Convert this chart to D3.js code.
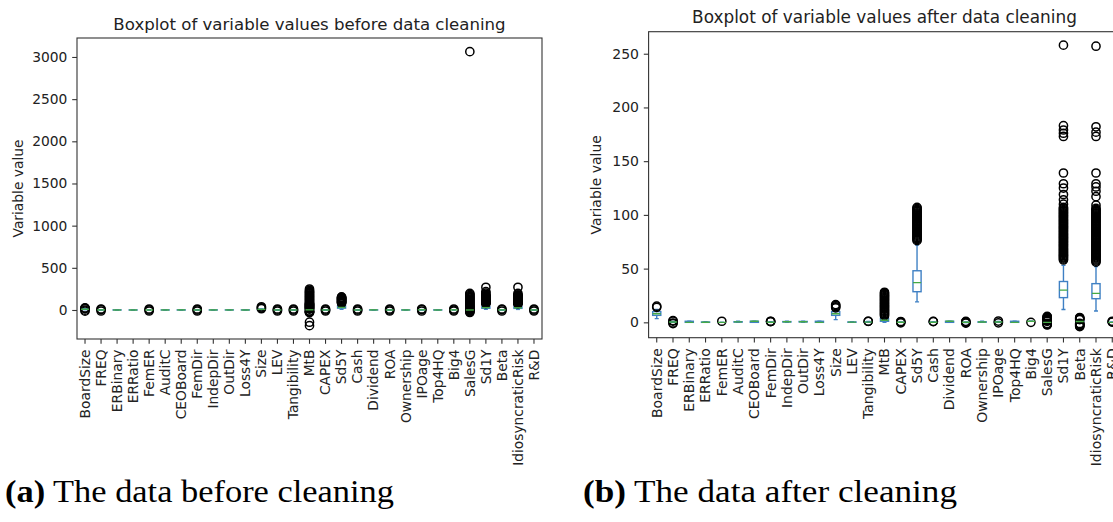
<!DOCTYPE html>
<html><head><meta charset="utf-8">
<script src="https://cdn.jsdelivr.net/npm/d3@7"></script>
<style>body{margin:0;background:#fff}svg{display:block}</style>
</head><body>
<svg id="c" width="1113" height="522"></svg>
<script>
// ---------- data ----------
const categories = ["BoardSize","FREQ","ERBinary","ERRatio","FemER","AuditC","CEOBoard","FemDir","IndepDir","OutDir","Loss4Y","Size","LEV","Tangibility","MtB","CAPEX","Sd5Y","Cash","Dividend","ROA","Ownership","IPOage","Top4HQ","Big4","SalesG","Sd1Y","Beta","IdiosyncraticRisk","R&D"];

const beforeTicks = [0, 500, 1000, 1500, 2000, 2500, 3000];
const afterTicks = [0, 50, 100, 150, 200, 250];

// before cleaning: box statistics per variable
const beforeQ1     = [7, 0.5, 0, 0,   0, 0.2, 0, 0,   0.3, 0.4, 0, 6,   0.1, 0.1, 1, 0.02, 22, 0.05, 0, 0,    0.1, 1.5, 0, 1, -0.05, 20, 0.5, 19, 0];
const beforeMedian = [9, 1,   0, 0.1, 0, 0.4, 1, 0.1, 0.5, 0.6, 0, 7.5, 0.2, 0.2, 2, 0.04, 30, 0.1,  1, 0.03, 0.3, 2.5, 0, 1, 0.05,  28, 1,   26, 0];
const beforeQ3     = [10, 1.5, 1, 0.3, 0, 0.6, 1, 0.2, 0.7, 0.8, 1, 9,  0.35, 0.4, 4, 0.07, 48, 0.2, 1, 0.08, 0.5, 3,   1, 1, 0.2,   40, 1.5, 38, 0.03];
const beforeWLow   = [4, 0,   0, 0,   0, 0,   0, 0,   0,   0,   0, 3,   0,   0,   0, 0,    8,  0,    0, -0.1, 0,   0,   0, 1, -0.4,  8,  -1,  7,  0];
const beforeWHigh  = [14, 3,  1, 0.7, 0, 1,   1, 0.5, 1,   1,   1, 12,  0.7, 0.8, 8, 0.15, 75, 0.45, 1, 0.2,  1,   5,   1, 1, 0.6,   70, 3,   65, 0.08];
const beforeFliers = [
  [-14, -2, 17, 20, 24],
  [-12, 5, 12],
  [], [],
  [-12, 1, 12],
  [], [],
  [-12, 0.6, 12],
  [], [], [],
  [15, 26, 38],
  [-12, 1, 12],
  [-12, 1, 12],
  [-186, -145, -32, -28, -24, -20, -16, -12, 10, 15, 20, 25, 30, 35, 40, 45, 50, 55, 60, 65, 70, 75, 80, 90, 100, 110, 120, 130, 140, 150, 160, 170, 180, 190, 200, 210, 220, 232, 249],
  [-12, 0.3, 12],
  [80, 85, 90, 95, 100, 105, 110, 115, 120, 125, 130, 135, 140, 145, 150, 155],
  [-12, 0.6, 12],
  [],
  [-12, 0.5, 12],
  [],
  [-12, 6, 12],
  [],
  [-12, 0, 12],
  [-30, -22, -14, -6, 2, 10, 18, 26, 34, 42, 50, 60, 70, 80, 90, 100, 110, 120, 130, 140, 150, 160, 172, 184, 196, 3063],
  [75, 80, 85, 90, 95, 100, 105, 110, 115, 120, 125, 130, 135, 140, 145, 150, 155, 160, 165, 170, 183, 200, 218, 269],
  [-12, 4, 12],
  [72, 77, 82, 87, 92, 97, 102, 107, 112, 117, 122, 127, 132, 137, 142, 147, 152, 157, 162, 167, 180, 196, 269],
  [-12, 0.2, 12]
];

// after cleaning: box statistics per variable
const afterQ1     = [6.5, 0.2, 0, 0,   0, 0.2, 0, 0,   0.3, 0.4, 0, 6.5, 0.1,  0.1, 1,   0.02, 28.5, 0.05, 0, 0,    0.1, 0.2, 0, 1, -0.1, 23, 0.5, 22, 0];
const afterMedian = [8,   0.3, 0, 0.1, 0, 0.4, 1, 0.1, 0.5, 0.6, 0, 8,   0.2,  0.2, 2,   0.04, 37,   0.1,  1, 0.03, 0.3, 0.3, 0, 1, 0,    30, 0.8, 27, 0];
const afterQ3     = [10,  0.5, 1, 0.3, 0, 0.6, 1, 0.2, 0.7, 0.8, 1, 10,  0.35, 0.4, 3.5, 0.07, 48,   0.2,  1, 0.08, 0.5, 0.5, 1, 1, 0.2,  38, 1.2, 36, 0.03];
const afterWLow   = [3.5, 0,   0, 0,   0, 0,   0, 0,   0,   0,   0, 2.5, 0,    0,   0,   0,    19,   0,    0, -0.1, 0,   0,   0, 1, -0.5, 12, -0.5, 10.5, 0];
const afterWHigh  = [12,  0.9, 1, 0.7, 0, 1,   1, 0.5, 1,   1,   1, 12.5, 0.7, 0.8, 7,   0.15, 72,   0.45, 1, 0.2,  1,   0.9, 1, 1, 0.6,  53, 2.2, 52, 0.08];
const afterFliers = [
  [14, 15],
  [-1.2, -0.6, 1.2, 1.6],
  [], [],
  [1],
  [], [],
  [0.6, 0.8, 1],
  [], [], [],
  [13.5, 14.5, 15.5, 16.5],
  [],
  [0.9, 1],
  [6, 7, 8, 9, 10, 11, 12, 13, 14, 15, 16, 17, 18, 19, 20, 21, 22, 23, 24, 25, 26, 27, 28],
  [-0.5, 0.3, 0.8],
  [76, 77, 78, 79, 80, 81, 82, 83, 84, 85, 86, 87, 88, 89, 90, 91, 92, 93, 94, 95, 96, 97, 98, 99, 100, 101, 102, 103, 104, 105, 106, 107],
  [0.6, 0.9],
  [],
  [-0.8, -0.3, 0.5, 0.9],
  [],
  [-0.5, 1.2],
  [],
  [0],
  [-2.5, -2, -1.5, -1, 1, 1.5, 2, 2.5, 3, 3.5, 4, 4.5, 5, 5.5],
  [58, 59, 60, 61, 62, 63, 64, 65, 66, 67, 68, 69, 70, 71, 72, 73, 74, 75, 76, 77, 78, 79, 80, 81, 82, 83, 84, 85, 86, 87, 88, 89, 90, 91, 92, 93, 94, 95, 96, 97, 98, 99, 100, 101, 102, 103, 104, 105, 106, 107, 110, 114, 119, 125, 129, 139, 173, 176, 179, 183, 258],
  [-4, -3.5, -3, -2.5, -2, -1.5, -1, 2.5, 3, 3.5, 4, 4.5],
  [56, 57, 58, 59, 60, 61, 62, 63, 64, 65, 66, 67, 68, 69, 70, 71, 72, 73, 74, 75, 76, 77, 78, 79, 80, 81, 82, 83, 84, 85, 86, 87, 88, 89, 90, 91, 92, 93, 94, 95, 96, 97, 98, 99, 100, 101, 102, 103, 104, 105, 106, 109, 117, 122, 126, 129, 139, 173, 177, 182, 257],
  [0.2, 0.5, 1]
];

// ---------- drawing ----------
const svg = d3.select("#c");
const BLUE = "#3f80c4", GREEN = "#45aa45", INK = "#222";
const SANS = "'DejaVu Sans', sans-serif";
const SERIF = "'Liberation Serif', 'Times New Roman', serif";

function drawPanel(p) {
  const x = d3.scaleBand().domain(categories).range([p.left, p.left + p.width]).paddingInner(0).paddingOuter(0);
  const y = d3.scaleLinear().domain(p.domain).range([p.top + p.height, p.top]);
  const bw = x.bandwidth();
  const g = svg.append("g");
  const clipId = "clip" + p.id;
  g.append("clipPath").attr("id", clipId).append("rect")
    .attr("x", p.left).attr("y", p.top).attr("width", p.width).attr("height", p.height);
  const plot = g.append("g").attr("clip-path", `url(#${clipId})`);
  const lw = 1.4;

  categories.forEach((c, i) => {
    const cx = x(c) + bw / 2, half = bw * 0.25, cap = bw * 0.125;
    const gi = plot.append("g");
    gi.append("line").attr("x1", cx).attr("x2", cx).attr("y1", y(p.q1[i])).attr("y2", y(p.wlo[i]))
      .attr("stroke", BLUE).attr("stroke-width", lw);
    gi.append("line").attr("x1", cx).attr("x2", cx).attr("y1", y(p.q3[i])).attr("y2", y(p.whi[i]))
      .attr("stroke", BLUE).attr("stroke-width", lw);
    [p.wlo[i], p.whi[i]].forEach(v => gi.append("line")
      .attr("x1", cx - cap).attr("x2", cx + cap).attr("y1", y(v)).attr("y2", y(v))
      .attr("stroke", BLUE).attr("stroke-width", lw));
    gi.append("rect").attr("x", cx - half).attr("width", 2 * half)
      .attr("y", y(p.q3[i])).attr("height", Math.max(0, y(p.q1[i]) - y(p.q3[i])))
      .attr("fill", "none").attr("stroke", BLUE).attr("stroke-width", lw);
    gi.selectAll("circle").data(p.fliers[i]).join("circle")
      .attr("cx", cx).attr("cy", d => y(d)).attr("r", 4.1)
      .attr("fill", "none").attr("stroke", "#000").attr("stroke-width", 1.5);
  });
  categories.forEach((c, i) => {
    const cx = x(c) + bw / 2, half = bw * 0.25;
    plot.append("line").attr("x1", cx - half).attr("x2", cx + half)
      .attr("y1", y(p.med[i])).attr("y2", y(p.med[i]))
      .attr("stroke", GREEN).attr("stroke-width", lw);
  });

  g.append("rect").attr("x", p.left).attr("y", p.top).attr("width", p.width).attr("height", p.height)
    .attr("fill", "none").attr("stroke", "#333").attr("stroke-width", 1.1);

  const ya = g.append("g").attr("transform", `translate(${p.left},0)`)
    .call(d3.axisLeft(y).tickValues(p.ticks).tickFormat(d3.format("d")).tickSize(4.8).tickPadding(4.8));
  ya.select(".domain").remove();
  ya.selectAll("line").attr("stroke", "#333").attr("stroke-width", 1.1);
  ya.selectAll("text").attr("fill", INK).style("font-family", SANS).style("font-size", p.font + "px");

  const xa = g.append("g").attr("transform", `translate(0,${p.top + p.height})`)
    .call(d3.axisBottom(x).tickSize(4.8).tickPadding(4.8));
  xa.select(".domain").remove();
  xa.selectAll("line").attr("stroke", "#333").attr("stroke-width", 1.1);
  xa.selectAll("text").attr("fill", INK).style("font-family", SANS).style("font-size", p.font + "px")
    .attr("transform", "rotate(-90)").attr("x", -10.5).attr("y", 0).attr("dy", "0.35em")
    .style("text-anchor", "end");

  g.append("text").attr("x", p.left + p.width / 2).attr("y", p.top - 8.5)
    .attr("text-anchor", "middle").attr("fill", INK)
    .style("font-family", SANS).style("font-size", p.titleFont + "px").text(p.title);
  g.append("text").attr("transform", `translate(${p.ylabelX},${p.top + p.height / 2}) rotate(-90)`)
    .attr("text-anchor", "middle").attr("dy", "0.35em").attr("fill", INK)
    .style("font-family", SANS).style("font-size", p.font + "px").text("Variable value");
  const cap = svg.append("text").attr("x", p.capX).attr("y", 502)
    .attr("textLength", p.capW).attr("lengthAdjust", "spacingAndGlyphs")
    .style("font-family", SERIF).style("font-size", "31px").attr("fill", "#000");
  cap.append("tspan").style("font-weight", "bold").text(p.capLabel);
  cap.append("tspan").text(" " + p.capText);
}

drawPanel({
  id: "a", left: 77, top: 38, width: 465, height: 301, domain: [-344, 3225],
  ticks: beforeTicks, q1: beforeQ1, med: beforeMedian, q3: beforeQ3, wlo: beforeWLow, whi: beforeWHigh, fliers: beforeFliers,
  font: 13.8, titleFont: 16.6, ylabelX: 18, title: "Boxplot of variable values before data cleaning",
  capX: 5, capW: 389, capLabel: "(a)", capText: "The data before cleaning"
});
drawPanel({
  id: "b", left: 648.6, top: 31.7, width: 471.8, height: 306, domain: [-14.3, 270.5],
  ticks: afterTicks, q1: afterQ1, med: afterMedian, q3: afterQ3, wlo: afterWLow, whi: afterWHigh, fliers: afterFliers,
  font: 14, titleFont: 16.9, ylabelX: 596, title: "Boxplot of variable values after data cleaning",
  capX: 583, capW: 374, capLabel: "(b)", capText: "The data after cleaning"
});
</script>
</body></html>
